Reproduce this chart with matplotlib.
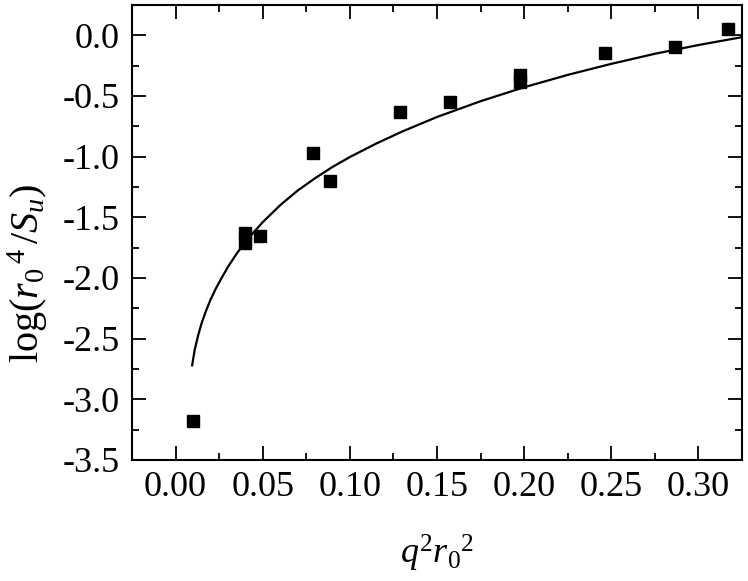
import matplotlib
matplotlib.use("Agg")
import matplotlib.pyplot as plt
from matplotlib.ticker import MultipleLocator

# measured points
x_data = [0.0099, 0.0398, 0.0398, 0.0487, 0.0788, 0.0888, 0.1287, 0.1575,
          0.1977, 0.1977, 0.2464, 0.2864, 0.3167]
y_data = [-3.18, -1.63, -1.71, -1.65, -0.968, -1.197, -0.632, -0.55,
          -0.326, -0.387, -0.146, -0.098, 0.05]

# fitted curve
x_fit = [0.0095, 0.011, 0.013, 0.015, 0.0175, 0.020, 0.023, 0.026, 0.030,
         0.035, 0.040, 0.045, 0.050, 0.060, 0.070, 0.080, 0.090, 0.100,
         0.115, 0.130, 0.150, 0.175, 0.200, 0.225, 0.250, 0.275, 0.300, 0.325]
y_fit = [-2.72, -2.59, -2.47, -2.37, -2.27, -2.18, -2.09, -2.01, -1.91,
         -1.80, -1.705, -1.62, -1.54, -1.40, -1.28, -1.178, -1.085, -1.003,
         -0.893, -0.793, -0.673, -0.543, -0.428, -0.326, -0.235, -0.152, -0.080, -0.015]

plt.rcParams['font.family'] = ['Liberation Serif', 'DejaVu Serif']
plt.rcParams['mathtext.fontset'] = 'custom'
plt.rcParams['mathtext.rm'] = 'Liberation Serif'
plt.rcParams['mathtext.it'] = 'Liberation Serif:italic'

fig = plt.figure(figsize=(7.48, 5.81), dpi=100)
ax = fig.add_axes([132 / 748, 1 - 460 / 581, 610 / 748, 455 / 581])

ax.plot(x_fit, y_fit, color='black', lw=1.6)
ax.plot(x_data, y_data, 's', color='black', ms=9, mec='black')

ax.set_xlim(-0.025, 0.325)
ax.set_ylim(-3.5, 0.25)
ax.xaxis.set_major_locator(MultipleLocator(0.05))
ax.xaxis.set_minor_locator(MultipleLocator(0.025))
ax.yaxis.set_major_locator(MultipleLocator(0.5))
ax.yaxis.set_minor_locator(MultipleLocator(0.25))
ax.xaxis.set_major_formatter(plt.FuncFormatter(lambda v, p: f'{v:.2f}'))
ax.yaxis.set_major_formatter(plt.FuncFormatter(lambda v, p: f'{v:.1f}'.replace('-0.0', '0.0')))

ax.tick_params(which='both', direction='in', top=True, right=True, width=1.3,
               labelsize=26)
ax.tick_params(which='major', length=10)
ax.tick_params(which='minor', length=5)
ax.tick_params(axis='x', pad=8)
ax.tick_params(axis='y', pad=9)
ax.tick_params(top=True, right=True, labeltop=False, labelright=False)
for s in ax.spines.values():
    s.set_linewidth(1.5)

ax.set_xlabel(r'$q^2r_0{}^2$', fontsize=26)
ax.set_ylabel(r'$\mathrm{log(}r_0{}^{\,4}\,\mathrm{/}S_u\mathrm{)}$', fontsize=29)
ax.xaxis.set_label_coords(0.5, -0.16)
ax.yaxis.set_label_coords(-0.135, 0.41)

fig.savefig('out.png', dpi=100)
